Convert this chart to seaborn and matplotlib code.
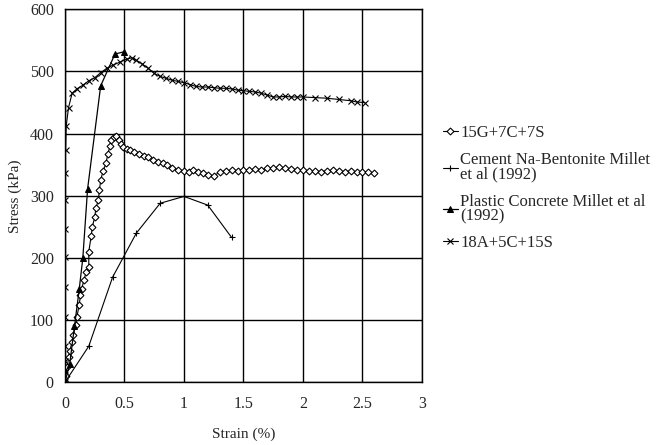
import pandas as pd
import matplotlib
matplotlib.use("Agg")
import matplotlib.pyplot as plt
import seaborn as sns


# data (strain %, stress kPa)
g15_strain = [0.0, 0.01, 0.02, 0.03, 0.04, 0.06, 0.07, 0.09, 0.10, 0.12, 0.13, 0.14, 0.16,
              0.18, 0.20, 0.20, 0.22, 0.23, 0.25, 0.26, 0.28, 0.29, 0.30, 0.32, 0.345, 0.36,
              0.38, 0.39, 0.41, 0.43, 0.45, 0.47, 0.49, 0.52, 0.55, 0.58, 0.62, 0.66, 0.70,
              0.74, 0.78, 0.82, 0.86, 0.90, 0.95, 1.00, 1.04, 1.08, 1.12, 1.16, 1.20, 1.25,
              1.30, 1.35, 1.40, 1.45, 1.50, 1.55, 1.60, 1.65, 1.70, 1.75, 1.80, 1.85, 1.90,
              1.95, 2.00, 2.05, 2.10, 2.15, 2.20, 2.25, 2.30, 2.35, 2.40, 2.45, 2.50, 2.55, 2.60]
g15_stress = [0, 10, 25, 40, 50, 65, 76, 92, 105, 125, 140, 150, 165,
              178, 185, 210, 235, 250, 266, 280, 293, 310, 325, 340, 352, 368,
              380, 389, 395, 397, 390, 384, 378, 375, 373, 370, 367, 364, 362,
              358, 355, 352, 349, 345, 342, 340, 338, 341, 339, 336, 334, 332,
              338, 340, 341, 340, 342, 341, 343, 342, 344, 345, 346, 344, 343,
              342, 341, 340, 340, 339, 340, 341, 340, 339, 340, 338, 339, 338, 337]

cem_strain = [0.0, 0.2, 0.4, 0.6, 0.8, 1.0, 1.2, 1.4]
cem_stress = [0, 58, 169, 240, 288, 299, 285, 233]

pc_strain = [0.0, 0.04, 0.08, 0.12, 0.15, 0.19, 0.30, 0.42, 0.50]
pc_stress = [0, 30, 90, 150, 200, 311, 477, 528, 532]

a18_strain = [0, 0, 0, 0, 0, 0, 0, 0, 0, 0, 0.005, 0.01, 0.03, 0.06, 0.10, 0.15, 0.20,
              0.25, 0.30, 0.35, 0.40, 0.46, 0.52, 0.56, 0.60, 0.65, 0.70, 0.75, 0.80,
              0.85, 0.90, 0.95, 1.00, 1.05, 1.10, 1.15, 1.20, 1.25, 1.30, 1.35, 1.40,
              1.45, 1.50, 1.55, 1.60, 1.65, 1.70, 1.75, 1.80, 1.85, 1.90, 1.95, 2.00,
              2.10, 2.20, 2.30, 2.40, 2.45, 2.52]
a18_stress = [0, 20, 35, 59, 105, 153, 201, 247, 293, 336, 373, 412, 442, 465, 472, 478, 485,
              490, 498, 505, 510, 515, 520, 522, 518, 512, 505, 497, 492,
              489, 486, 484, 482, 479, 476, 475, 475, 474, 473, 473, 472,
              470, 469, 468, 467, 465, 462, 459, 459, 460, 459, 459, 459,
              458, 457, 455, 453, 451, 450]

labels = ["15G+7C+7S",
          "Cement Na-Bentonite Millet\net al (1992)",
          "Plastic Concrete Millet et al\n(1992)",
          "18A+5C+15S"]

sns.set_style("white")
plt.rcParams['font.family'] = ['Liberation Serif', 'DejaVu Serif']

fig = plt.figure(figsize=(6.59, 4.45), dpi=100)
ax = fig.add_axes([0.0986, 0.141, 0.5417, 0.838])

sns.lineplot(x=g15_strain, y=g15_stress, ax=ax, color='black', lw=0.8, sort=False,
             estimator=None, marker='D', markersize=3.5, markerfacecolor='white',
             markeredgecolor='black', markeredgewidth=0.8, label=labels[0])
sns.lineplot(x=cem_strain, y=cem_stress, ax=ax, color='black', lw=0.8, sort=False,
             estimator=None, marker='+', markersize=5, markeredgecolor='black',
             markeredgewidth=0.8, label=labels[1])
sns.lineplot(x=pc_strain, y=pc_stress, ax=ax, color='black', lw=0.9, sort=False,
             estimator=None, marker='^', markersize=4, markerfacecolor='black',
             markeredgecolor='black', label=labels[2])
sns.lineplot(x=a18_strain, y=a18_stress, ax=ax, color='black', lw=0.8, sort=False,
             estimator=None, marker='x', markersize=4, markeredgecolor='black',
             markeredgewidth=0.8, label=labels[3])

ax.set_xlim(0, 3)
ax.set_ylim(0, 600)
ax.set_xticks([0, 0.5, 1, 1.5, 2, 2.5, 3])
ax.set_xticklabels(['0', '0.5', '1', '1.5', '2', '2.5', '3'])
ax.set_yticks([0, 100, 200, 300, 400, 500, 600])
ax.grid(True, color='black', lw=1.0)
for s in ax.spines.values():
    s.set_color('black')
    s.set_linewidth(1.0)
ax.tick_params(length=0, labelsize=11.5)
ax.tick_params(axis='x', pad=10)
ax.tick_params(axis='y', pad=8)
ax.set_xlabel("Strain (%)", fontsize=11, labelpad=11)
ax.set_ylabel("Stress (kPa)", fontsize=11, labelpad=6)

leg = ax.legend(loc='center left', bbox_to_anchor=(0.672, 0.577), bbox_transform=fig.transFigure,
                frameon=False, fontsize=12, handlelength=0.9, handletextpad=0.15,
                labelspacing=0.65, borderpad=0, borderaxespad=0)
for t in leg.get_texts():
    t.set_linespacing(0.9)

fig.savefig("out.png", dpi=100)
